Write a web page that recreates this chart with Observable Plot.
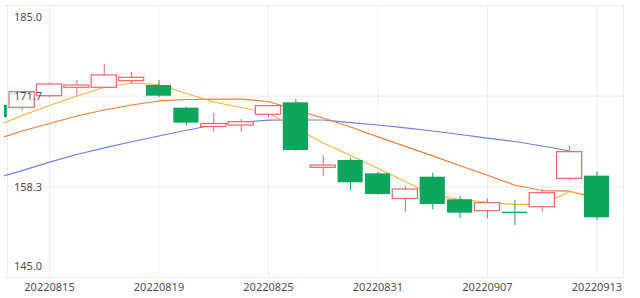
<!DOCTYPE html>
<html><head><meta charset="utf-8">
<script src="https://cdn.jsdelivr.net/npm/d3@7"></script>
<script src="https://cdn.jsdelivr.net/npm/@observablehq/plot@0.6"></script>
<style>body{margin:0;background:#fff;} #chart svg{display:block;}</style>
</head><body><div id="chart"></div>
<script>
const dates = ["20220811","20220812","20220815","20220816","20220817","20220818","20220819","20220822","20220823","20220824","20220825","20220826","20220829","20220830","20220831","20220901","20220902","20220906","20220907","20220908","20220909","20220912","20220913"];
const open  = [170.3,169.96,171.66,172.9,172.9,173.87,173.24,169.9,167.13,167.35,168.93,170.69,161.13,162.21,160.25,156.57,159.75,156.43,154.75,154.6,155.34,159.51,159.9];
const high  = [170.8,172.3,173.6,173.97,176.32,175.19,173.97,170.0,169.1,168.19,170.3,171.18,162.94,162.6,160.49,158.38,160.34,156.91,156.57,156.32,157.9,164.26,160.49];
const low   = [168.0,169.56,171.5,171.76,172.75,173.38,171.43,167.35,166.37,166.37,168.49,163.6,159.85,157.79,157.1,154.6,154.96,153.63,153.63,152.65,154.6,159.26,153.38];
const close = [168.5,172.25,173.38,173.24,174.71,174.37,171.66,167.7,167.57,167.84,170.2,163.68,161.47,158.93,157.21,157.94,155.74,154.46,155.93,154.41,157.4,163.43,153.78];
const ma5   = [167.13,168.82,170.29,171.69,172.94,173.6,173.38,172.06,170.81,170.0,169.19,166.91,164.78,162.94,161.03,159.12,157.13,156.47,156.07,155.74,155.7,157.65,156.91];
const ma10  = [165.22,166.54,167.65,168.75,169.63,170.37,170.96,171.18,171.22,171.22,170.88,169.63,168.46,167.13,165.68,164.28,162.88,161.43,160.03,158.57,157.79,157.69,156.62];
const ma20  = [159.53,160.71,161.96,163.09,164.06,164.96,165.81,166.65,167.43,167.84,168.13,168.16,168.16,167.79,167.43,166.99,166.54,166.03,165.51,165.0,164.34,163.6,null];
const xTickDates = ["20220815","20220819","20220825","20220831","20220907","20220913"];
const yTicks  = [145, 158.333, 171.667, 185];
const yLabels = ["145.0","158.3","171.7","185.0"];

const RED = "#eb6470", GREEN = "#0fa55d";
const candles = dates.map((d, i) => ({i, date: d, open: open[i], high: high[i], low: low[i], close: close[i], up: close[i] >= open[i]}));
const ups = candles.filter(d => d.up), downs = candles.filter(d => !d.up);
const xTicks = xTickDates.map(d => dates.indexOf(d));
const yItems = yTicks.map((v, k) => ({v, label: yLabels[k]}));
const half = 0.46;
const textStyle = {fill: "#505050", fontSize: 11};

const chart = Plot.plot({
  width: 640, height: 298,
  marginLeft: 4, marginRight: 17, marginTop: 5, marginBottom: 21,
  style: {fontFamily: "'Noto Sans', sans-serif", fontSize: "11px", background: "#fff"},
  x: {type: "linear", domain: [0.356, 22.968], axis: null},
  y: {domain: [145, 185], axis: null},
  marks: [
    Plot.ruleY(yTicks, {stroke: "#ececec"}),
    Plot.ruleX(xTicks, {stroke: "#efefef"}),
    Plot.frame({stroke: "#ececec", insetLeft: 3}),
    Plot.line(candles, {x: "i", y: d => ma20[d.i], stroke: "#6d80e4", strokeWidth: 1.2, clip: true}),
    Plot.line(candles, {x: "i", y: d => ma10[d.i], stroke: "#f07c3a", strokeWidth: 1.2, clip: true}),
    Plot.line(candles, {x: "i", y: d => ma5[d.i], stroke: "#f5b240", strokeWidth: 1.2, clip: true}),
    Plot.ruleX(ups, {x: "i", y1: "low", y2: "high", stroke: RED, strokeWidth: 1, clip: true}),
    Plot.ruleX(downs, {x: "i", y1: "low", y2: "high", stroke: GREEN, strokeWidth: 1, clip: true}),
    Plot.rect(ups, {x1: d => d.i - half, x2: d => d.i + half, y1: "open", y2: "close", fill: "#fff", stroke: RED, strokeWidth: 1.2, clip: true}),
    Plot.rect(downs, {x1: d => d.i - half, x2: d => d.i + half, y1: "close", y2: "open", fill: GREEN, clip: true}),
    Plot.text(yItems.filter(d => d.v === 185), {y: "v", text: "label", frameAnchor: "left", textAnchor: "start", dx: 9.5, dy: 11.5, lineAnchor: "middle", ...textStyle}),
    Plot.text(yItems.filter(d => d.v !== 185 && d.v !== 145), {y: "v", text: "label", frameAnchor: "left", textAnchor: "start", dx: 9.5, dy: 0.5, lineAnchor: "middle", ...textStyle}),
    Plot.text(yItems.filter(d => d.v === 145), {y: "v", text: "label", frameAnchor: "left", textAnchor: "start", dx: 9.5, dy: -11, lineAnchor: "middle", ...textStyle}),
    Plot.text(xTicks, {x: d => d, text: (d, k) => xTickDates[k], frameAnchor: "bottom", lineAnchor: "middle", dy: 10, ...textStyle})
  ]
});
document.getElementById("chart").appendChild(chart);
</script>
</body></html>
